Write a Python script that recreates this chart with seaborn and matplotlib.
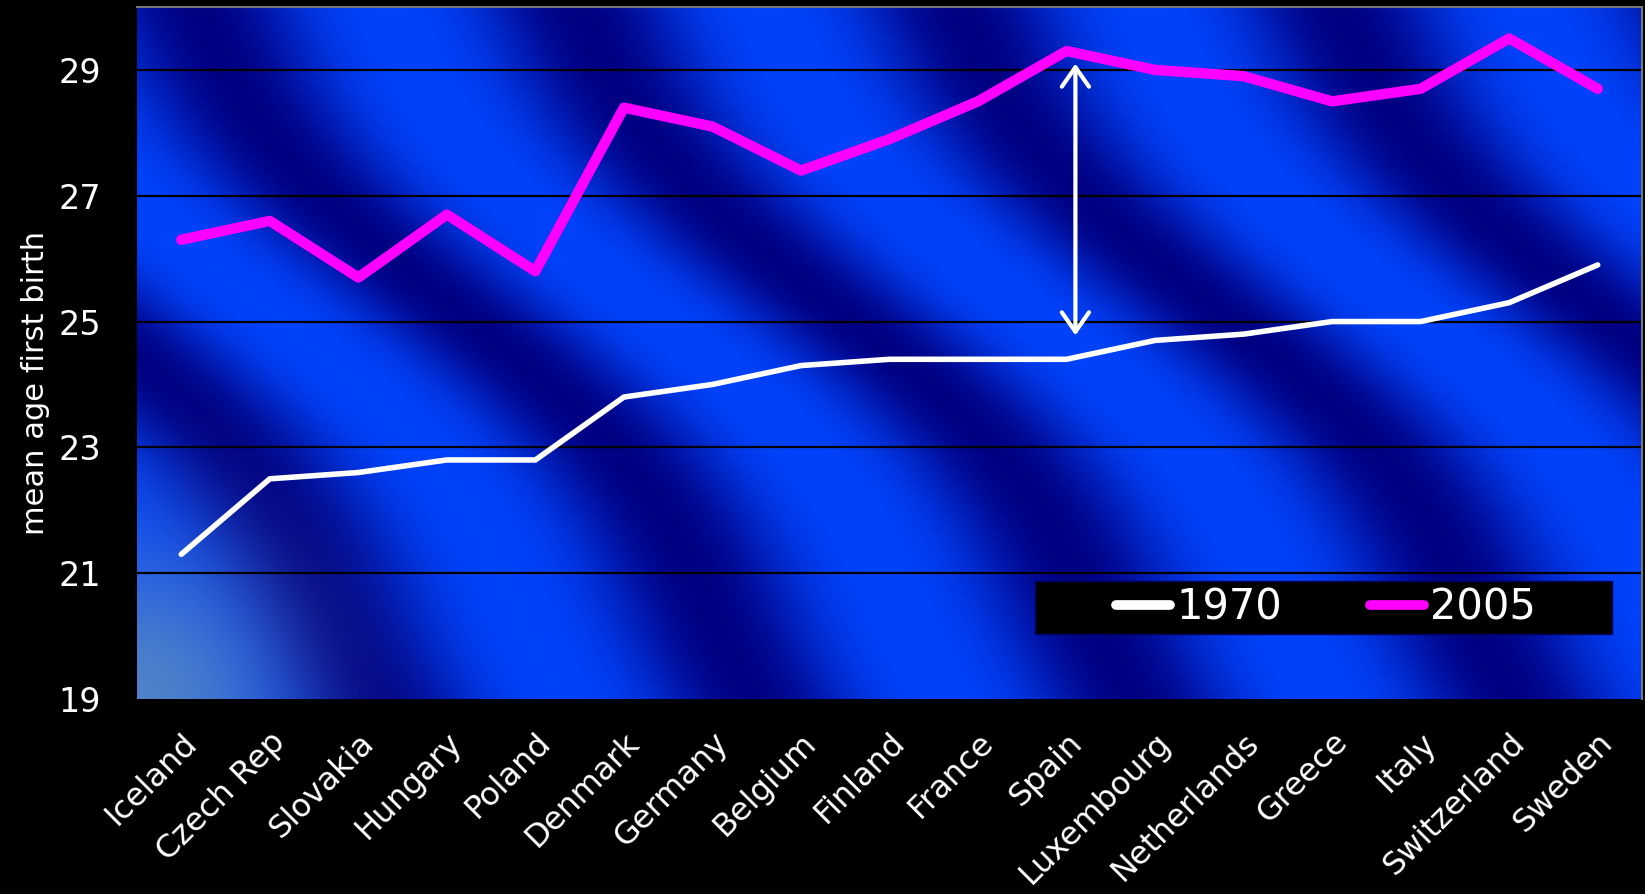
import numpy as np
import pandas as pd
import matplotlib
matplotlib.use("Agg")
import matplotlib.pyplot as plt
import seaborn as sns
from matplotlib.patches import Rectangle

# =====================================
# DATA
# =====================================

countries = ["Iceland", "Czech Rep", "Slovakia", "Hungary", "Poland",
             "Denmark", "Germany", "Belgium", "Finland", "France", "Spain",
             "Luxembourg", "Netherlands", "Greece", "Italy", "Switzerland",
             "Sweden"]

age_1970 = [21.3, 22.5, 22.6, 22.8, 22.8, 23.8, 24.0, 24.3, 24.4, 24.4,
            24.4, 24.7, 24.8, 25.0, 25.0, 25.3, 25.9]

age_2005 = [26.3, 26.6, 25.7, 26.7, 25.8, 28.4, 28.1, 27.4, 27.9, 28.5,
            29.3, 29.0, 28.9, 28.5, 28.7, 29.5, 28.7]

y_ticks = [19, 21, 23, 25, 27, 29]
series_labels = ["1970", "2005"]

# arrow between the two series (Spain)
arrow_x = 10.1
arrow_top = 29.1
arrow_bottom = 24.78

df = pd.DataFrame({
    "pos": np.arange(len(countries)),
    "country": countries,
    "y1970": age_1970,
    "y2005": age_2005,
})

# =====================================
# FIGURE
# =====================================

sns.set_style("dark")
plt.rcParams['font.family'] = ['DejaVu Sans']

fig = plt.figure(figsize=(16.45, 8.94), dpi=100, facecolor='black')
ax = fig.add_axes([137 / 1645, 1 - 699 / 894, 1505 / 1645, 692 / 894])
ax.set_facecolor('#0030d0')

# diagonal blue gradient background
H, W = 346, 752
v, u = np.mgrid[0:H, 0:W] * 2.0
c = u - 0.85 * v + 40 * np.sin(2 * np.pi * v / 600)
d = (0.5 + 0.5 * np.cos(2 * np.pi * (c - 60) / 380)) ** 1.4
bright = np.array([0, 66, 250]) / 255
dark = np.array([0, 0, 130]) / 255
img = bright * (1 - d[..., None]) + dark * d[..., None]
glow = np.exp(-((u) ** 2 + (692 - v) ** 2) / (2 * 110 ** 2))
corner = np.array([80, 130, 200]) / 255
img = img * (1 - glow[..., None]) + corner * glow[..., None]

ax.imshow(img, extent=(-0.5, len(countries) - 0.5, 19, 30),
          aspect='auto', zorder=0, interpolation='bilinear')

for yv in y_ticks[1:]:
    ax.axhline(yv, color='black', lw=1.6, zorder=1)

sns.lineplot(data=df, x="pos", y="y1970", ax=ax, color='white',
             lw=4, label=series_labels[0], zorder=3)
sns.lineplot(data=df, x="pos", y="y2005", ax=ax, color='#ff00ff',
             lw=7.5, label=series_labels[1], zorder=3)

ax.annotate('', xy=(arrow_x, arrow_top), xytext=(arrow_x, arrow_bottom),
            arrowprops=dict(arrowstyle='<->,head_length=0.5,head_width=0.35',
                            color='white', lw=3, mutation_scale=28,
                            shrinkA=0, shrinkB=0),
            zorder=4)

ax.set_xlim(-0.5, len(countries) - 0.5)
ax.set_ylim(19, 30)
ax.set_yticks(y_ticks)
ax.set_xticks(df["pos"])
ax.set_xticklabels(countries, rotation=45, ha='right',
                   rotation_mode='anchor')
ax.tick_params(axis='x', colors='white', labelsize=23, length=0, pad=20)
ax.tick_params(axis='y', colors='white', labelsize=24, length=0, pad=26)
ax.set_xlabel('')
ax.set_ylabel('mean age first birth', color='white', fontsize=22)
ax.yaxis.set_label_coords(-0.058, 0.457)
ax.grid(False)

for side in ['left', 'bottom']:
    ax.spines[side].set_visible(False)
for side in ['top', 'right']:
    ax.spines[side].set_color('#777777')
    ax.spines[side].set_linewidth(1.5)

# legend on a black box
ax.add_patch(Rectangle((0.597, 0.094), 0.383, 0.0765, transform=ax.transAxes,
                       facecolor='black', edgecolor='#000060', lw=1,
                       zorder=6))
leg = ax.legend(loc='center', bbox_to_anchor=(0.790, 0.132), ncol=2,
                frameon=False, fontsize=30, handlelength=1.3,
                handletextpad=0.15, columnspacing=2.1, labelcolor='white')
leg.set_zorder(7)
for line in leg.get_lines():
    line.set_linewidth(7)
    line.set_solid_capstyle('round')

plt.savefig("out.png", dpi=100, facecolor='black')
plt.close()
